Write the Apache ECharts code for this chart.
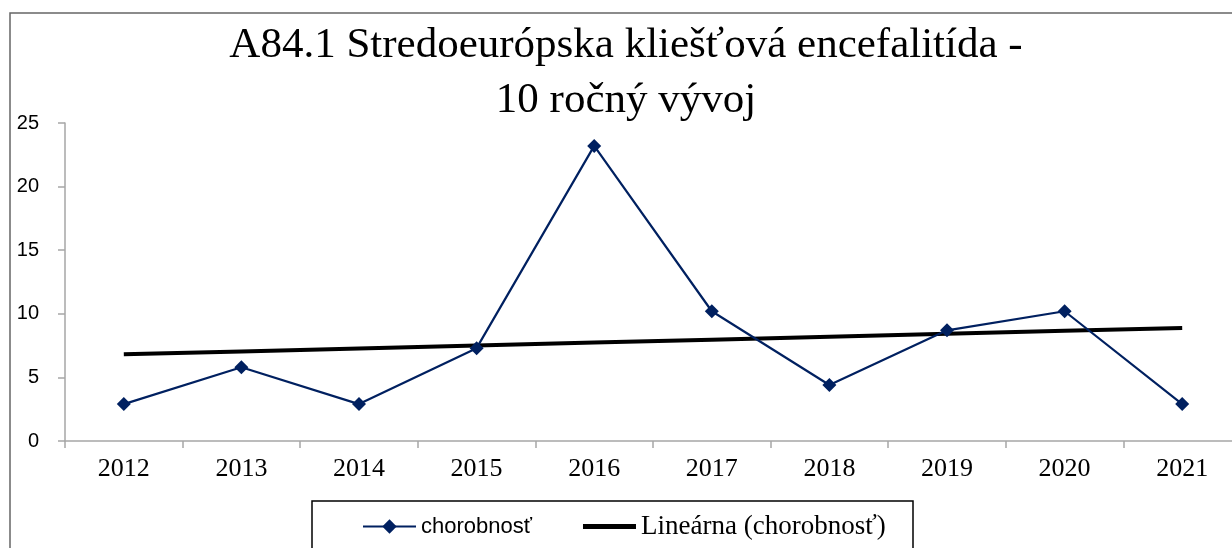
<!DOCTYPE html>
<html>
<head>
<meta charset="utf-8">
<script src="https://cdn.jsdelivr.net/npm/echarts@6/dist/echarts.min.js"></script>
<style>
  html, body { margin: 0; padding: 0; background: #fff; }
  #chart { width: 1232px; height: 548px; }
</style>
</head>
<body>
<div id="chart"></div>
<script>
var years = ['2012', '2013', '2014', '2015', '2016', '2017', '2018', '2019', '2020', '2021'];
var chorobnost = [2.9, 5.8, 2.9, 7.3, 23.2, 10.2, 4.4, 8.7, 10.2, 2.9];
var yTicks = [0, 5, 10, 15, 20, 25];

// linear trend (least squares) of the series, like the spreadsheet trendline
function linearTrend(vals) {
    var n = vals.length, sx = 0, sy = 0, sxy = 0, sxx = 0;
    for (var i = 0; i < n; i++) {
        sx += i; sy += vals[i]; sxy += i * vals[i]; sxx += i * i;
    }
    var b = (n * sxy - sx * sy) / (n * sxx - sx * sx);
    var a = (sy - b * sx) / n;
    return vals.map(function (v, i) { return +(a + b * i).toFixed(3); });
}
var trend = linearTrend(chorobnost);

var myChart = echarts.init(document.getElementById('chart'));
myChart.setOption({
    backgroundColor: '#ffffff',
    animation: false,
    title: {
        text: 'A84.1 Stredoeurópska kliešťová encefalitída -\n10 ročný vývoj',
        left: 621,
        top: 13,
        textAlign: 'center',
        textStyle: {
            fontFamily: 'Liberation Serif',
            fontWeight: 'normal',
            fontSize: 43,
            lineHeight: 55,
            align: 'center',
            color: '#000'
        }
    },
    graphic: [
        {
            type: 'rect',
            shape: { x: 10, y: 13, width: 1300, height: 600 },
            style: { fill: 'none', stroke: '#666', lineWidth: 1.5 },
            silent: true, z: -1
        },
        {
            type: 'rect',
            shape: { x: 312, y: 501, width: 601, height: 100 },
            style: { fill: 'none', stroke: '#000', lineWidth: 1.5 },
            silent: true, z: -1
        }
    ],
    legend: {
        left: 357,
        top: 508,
        itemWidth: 53,
        itemHeight: 18,
        itemGap: 51,
        data: [
            { name: 'chorobnosť', textStyle: { fontFamily: 'Liberation Sans', fontSize: 22, color: '#000' } },
            {
                name: 'Lineárna (chorobnosť)',
                icon: 'path://M0 0H53V5H0Z',
                itemStyle: { color: '#000' },
                textStyle: { fontFamily: 'Liberation Serif', fontSize: 27, color: '#000' }
            }
        ]
    },
    grid: {
        left: 65,
        right: -9,
        top: 123,
        bottom: 107,
        containLabel: false,
        outerBoundsMode: 'none'
    },
    xAxis: {
        type: 'category',
        data: years,
        boundaryGap: true,
        axisLine: { lineStyle: { color: '#a6a6a6', width: 1.5 } },
        axisTick: { show: true, length: 7, lineStyle: { color: '#a6a6a6', width: 1.5 } },
        axisLabel: {
            margin: 15,
            fontFamily: 'Liberation Serif',
            fontSize: 26,
            color: '#000'
        },
        splitLine: { show: false }
    },
    yAxis: {
        type: 'value',
        min: yTicks[0],
        max: yTicks[yTicks.length - 1],
        interval: 5,
        axisLine: { show: true, lineStyle: { color: '#a6a6a6', width: 1.5 } },
        axisTick: { show: true, length: 7, lineStyle: { color: '#a6a6a6', width: 1.5 } },
        axisLabel: {
            margin: 26,
            fontFamily: 'Liberation Sans',
            fontSize: 20,
            color: '#000'
        },
        splitLine: { show: false }
    },
    series: [
        {
            name: 'chorobnosť',
            type: 'line',
            data: chorobnost,
            symbol: 'diamond',
            symbolSize: 14,
            itemStyle: { color: '#002060' },
            lineStyle: { color: '#002060', width: 2.2 },
            z: 3
        },
        {
            name: 'Lineárna (chorobnosť)',
            type: 'line',
            data: trend,
            symbol: 'none',
            itemStyle: { color: '#000' },
            lineStyle: { color: '#000', width: 4 },
            z: 2
        }
    ]
});
</script>
</body>
</html>
